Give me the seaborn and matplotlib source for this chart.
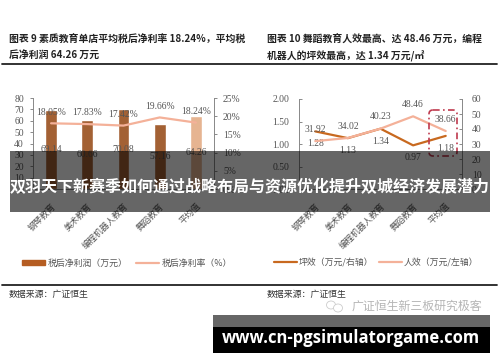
import matplotlib
matplotlib.use("Agg")
import matplotlib.pyplot as plt
import seaborn as sns
from matplotlib.patches import Patch, FancyBboxPatch, Rectangle, Ellipse

# data
categories_left = ["钢琴教育", "美术教育", "编程机器人教育", "舞蹈教育", "平均值"]
profit = [69.14, 60.66, 70.08, 57.16, 64.26]
margin = [18.05, 17.83, 17.42, 19.66, 18.24]
floor_eff = [1.28, 1.13, 1.34, 0.97, 1.18]
staff_eff = [31.92, 34.02, 40.23, 48.46, 38.66]

title_left = ["图表 9 素质教育单店平均税后净利率 18.24%，平均税", "后净利润 64.26 万元"]
title_right = ["图表 10 舞蹈教育人效最高、达 48.46 万元，编程", "机器人的坪效最高，达 1.34 万元/㎡"]
source_text = "数据来源：广证恒生"
watermark = "广证恒生新三板研究极客"
banner = "双羽天下新赛季如何通过战略布局与资源优化提升双城经济发展潜力"
site = "www.cn-pgsimulatorgame.com"

BAR = "#b55d22"
BAR_AVG = "#f4b183"
LINE_LIGHT = "#f4b199"
LINE_DARK = "#c8691f"
GREY = "#555555"
CJK = ["Noto Sans CJK SC", "DejaVu Sans"]
SERIF = "Liberation Serif"
NUM_SIZE = 6.9

sns.set_style("white")
plt.rcParams["font.family"] = CJK

W, H = 500, 362
fig = plt.figure(figsize=(W / 100, H / 100), dpi=100)


def box(x0, x1, y_top, y_bottom):
    return [x0 / W, 1 - y_bottom / H, (x1 - x0) / W, (y_bottom - y_top) / H]


def style_axis(ax, tick_dir, pad):
    ax.tick_params(axis="both", direction=tick_dir, length=2.5, width=0.6, color="#777777",
                   labelcolor=GREY, labelsize=NUM_SIZE, pad=pad)
    ax.spines["top"].set_visible(False)
    for s in ["left", "right", "bottom"]:
        ax.spines[s].set_color("#888888")
        ax.spines[s].set_linewidth(0.6)
    for lab in ax.get_yticklabels():
        lab.set_family(SERIF)


# left chart
ax1 = fig.add_axes(box(33, 214, 98, 189))
sns.barplot(x=categories_left, y=profit, hue=categories_left, dodge=False, width=0.33,
            palette=[BAR, BAR, BAR, BAR, BAR_AVG], legend=False, ax=ax1)
ax1.set_ylim(0, 80)
ax1.set_yticks(range(0, 90, 10))
for cont in ax1.containers:
    ax1.bar_label(cont, fmt="%.2f", label_type="center", fontsize=NUM_SIZE, color=GREY, family=SERIF)

ax1b = ax1.twinx()
sns.lineplot(x=categories_left, y=margin, sort=False, color=LINE_LIGHT, linewidth=1.6, ax=ax1b)
ax1b.set_ylim(0, 25)
ax1b.set_yticks(range(0, 30, 5))
ax1b.set_yticklabels([f"{v}%" for v in range(0, 30, 5)])
for i, v in enumerate(margin):
    ax1b.annotate(f"{v:.2f}%", (i, v), xytext=(0, 8), textcoords="offset points", ha="center",
                  va="center", fontsize=NUM_SIZE, color=GREY, family=SERIF)
ax1.set_xlim(-0.5, 4.5)
ax1.set_ylabel("")
style_axis(ax1, "out", 4)
style_axis(ax1b, "out", 4)
ax1.tick_params(axis="x", length=0, pad=9)
ax1.set_xticks(range(5))
ax1.set_xticklabels(categories_left, rotation=45, ha="right", rotation_mode="anchor", fontsize=6.2)
fig.legend(handles=[Patch(color=BAR, label="税后净利润（万元）"),
                    plt.Line2D([], [], color=LINE_LIGHT, linewidth=1.6, label="税后净利率（%）")],
           loc="center", bbox_to_anchor=(127 / W, 1 - 263 / H), ncol=2, frameon=False,
           fontsize=6.4, labelcolor=GREY, handlelength=2.6, handleheight=0.5, columnspacing=1.0,
           handletextpad=0.3)

# right chart, values on the axes as drawn in the source
ax2 = fig.add_axes(box(299, 462, 99, 189))
sns.lineplot(x=categories_left, y=floor_eff, sort=False, color=LINE_DARK, linewidth=1.6, ax=ax2)
ax2.set_ylim(0, 2)
ax2.set_yticks([0, 0.5, 1, 1.5, 2])
ax2.set_yticklabels(["0.00", "0.50", "1.00", "1.50", "2.00"])
for i, v in enumerate(floor_eff):
    ax2.annotate(f"{v:.2f}", (i, v), xytext=(0, -9), textcoords="offset points", ha="center",
                 va="center", fontsize=NUM_SIZE, color=GREY, family=SERIF)

ax2b = ax2.twinx()
sns.lineplot(x=categories_left, y=staff_eff, sort=False, color=LINE_LIGHT, linewidth=1.6, ax=ax2b)
ax2b.set_ylim(0, 60)
ax2b.set_yticks(range(0, 70, 10))
for i, v in enumerate(staff_eff):
    ax2b.annotate(f"{v:.2f}", (i, v), xytext=(0, 8.5), textcoords="offset points", ha="center",
                  va="center", fontsize=NUM_SIZE, color=GREY, family=SERIF)
ax2.set_xlim(-0.5, 4.5)
style_axis(ax2, "in", 7)
style_axis(ax2b, "in", 7)
ax2.tick_params(axis="x", length=0, pad=9)
ax2.set_xticks(range(5))
ax2.set_xticklabels(categories_left, rotation=45, ha="right", rotation_mode="anchor", fontsize=6.2)
fig.legend(handles=[plt.Line2D([], [], color=LINE_DARK, linewidth=1.6, label="坪效（万元/右轴）"),
                    plt.Line2D([], [], color=LINE_LIGHT, linewidth=1.6, label="人效（万元/左轴）")],
           loc="center", bbox_to_anchor=(376 / W, 1 - 263 / H), ncol=2, frameon=False,
           fontsize=6.4, labelcolor=GREY, handlelength=2.6, columnspacing=0.6, handletextpad=0.2)

# page furniture in pixel coordinates, on top of the charts
page = fig.add_axes([0, 0, 1, 1], zorder=10)
page.set_xlim(0, W)
page.set_ylim(H, 0)
page.axis("off")
page.patch.set_alpha(0)

for x, lines in [(9, title_left), (267, title_right)]:
    page.text(x, 40, lines[0], fontsize=7.1, fontweight="bold", color="#222222", va="center")
    page.text(x, 56, lines[1], fontsize=7.1, fontweight="bold", color="#222222", va="center")
    page.text(x, 294, source_text, fontsize=6.4, color="#333333", va="center")

page.plot([2, 497], [64, 64], color="#222222", linewidth=1.3)
page.plot([2, 497], [285, 285], color="#222222", linewidth=1.3)

page.add_patch(FancyBboxPatch((429, 110), 28, 46, boxstyle="round,pad=0,rounding_size=4",
                              fill=False, edgecolor="#bf3a4e", linewidth=1.2, linestyle=(0, (4, 2, 1, 2))))

page.add_patch(Ellipse((331, 305), 9, 8, fill=False, edgecolor="#cccccc", linewidth=0.6))
page.add_patch(Ellipse((338, 308), 9, 8, facecolor="white", edgecolor="#cccccc", linewidth=0.6))
page.text(352, 306, watermark, fontsize=8.6, color="#b5b5b5", va="center")

page.add_patch(Rectangle((10, 151), 480, 61, facecolor="black", alpha=0.6, edgecolor="none"))
page.text(250, 187, banner, fontsize=11.5, fontweight="bold", color="white", ha="center", va="center")

page.add_patch(Rectangle((213, 315), 277, 12, facecolor="#666666", edgecolor="none"))
page.add_patch(Rectangle((213, 327), 277, 26, facecolor="black", edgecolor="none"))
page.text(351, 338, site, fontsize=12, fontweight="bold", color="white", ha="center", va="center",
          family="Open Sans")

fig.savefig("out.png", dpi=100)
